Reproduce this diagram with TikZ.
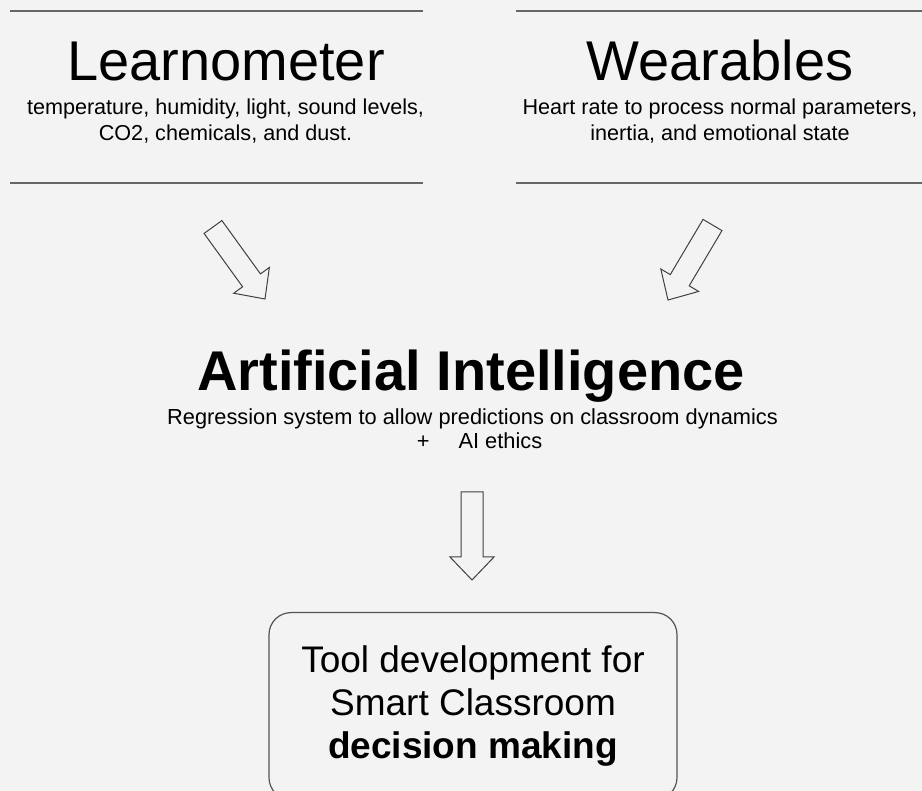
\documentclass[tikz,border=0pt]{standalone}
\usepackage{fontspec}
\setmainfont{Liberation Sans}
\usetikzlibrary{calc,positioning}

\definecolor{paper}{HTML}{F3F3F3}
\definecolor{rulegray}{HTML}{666666}
\definecolor{edgegray}{HTML}{404040}

\begin{document}
\begin{tikzpicture}[
  x=1pt, y=-1pt,
  heading/.style={font=\fontsize{56}{60}\selectfont,inner sep=0pt,anchor=base},
  detail/.style={font=\fontsize{21.6}{25.5}\selectfont,align=center,inner sep=0pt,anchor=base},
  rule/.style={draw=rulegray,line width=1.5pt},
  hollow/.style={draw=edgegray,line width=1pt,line join=miter,
    to path={($(\tikztostart)!11pt!90:(\tikztotarget)$)
      -- ($($(\tikztotarget)!23pt!(\tikztostart)$)!11pt!90:(\tikztotarget)$)
      -- ($($(\tikztotarget)!23pt!(\tikztostart)$)!22pt!90:(\tikztotarget)$)
      -- (\tikztotarget)
      -- ($($(\tikztotarget)!23pt!(\tikztostart)$)!22pt!-90:(\tikztotarget)$)
      -- ($($(\tikztotarget)!23pt!(\tikztostart)$)!11pt!-90:(\tikztotarget)$)
      -- ($(\tikztostart)!11pt!-90:(\tikztotarget)$) -- cycle}},
  outcome/.style={draw=edgegray!90,line width=1.2pt,rounded corners=22pt,
    minimum width=408pt,minimum height=187pt,align=center,anchor=north,
    font=\fontsize{37}{43}\selectfont}
]
\path[use as bounding box,fill=paper] (0,0) rectangle (922,791);
\clip (0,0) rectangle (922,791);

% sensor sources (detail nodes sit on their last line)
\node[heading] (lrn) at (226,81) {Learnometer};
\node[detail] (lrn-sub) at (225.5,140.5) {temperature, humidity, light, sound levels,\\CO2, chemicals, and dust.};
\node[heading] (wrb) at (720,81) {Wearables};
\node[detail] (wrb-sub) at (720,140.5) {Heart rate to process normal parameters,\\inertia, and emotional state};

\draw[rule] (10,11) -- (423,11);
\draw[rule] (10,183) -- (423,183);
\draw[rule] (516,11) -- (922,11);
\draw[rule] (516,183) -- (922,183);

% model
\node[heading,font=\fontsize{56}{60}\selectfont\bfseries] (ai) at (471,391) {Artificial Intelligence};
\node[detail,font=\fontsize{21.8}{24}\selectfont] (ai-sub) at (472.5,449)
  {Regression system to allow predictions on classroom dynamics\\\hspace*{14pt}+\hspace{29pt}AI ethics};

% result
\node[outcome] (tool) at (473,612) {Tool development for\\Smart Classroom\\\textbf{decision making}};

\coordinate (lrn-tail) at (213,227);
\coordinate (lrn-tip) at (265,299);
\coordinate (wrb-tail) at (712.5,225);
\coordinate (wrb-tip) at (668,300);
\coordinate (ai-tail) at (472,492);
\coordinate (ai-tip) at (472,580);

\draw[hollow] (lrn-tail) to (lrn-tip);
\draw[hollow] (wrb-tail) to (wrb-tip);
\draw[hollow] (ai-tail) to (ai-tip);
\end{tikzpicture}
\end{document}
